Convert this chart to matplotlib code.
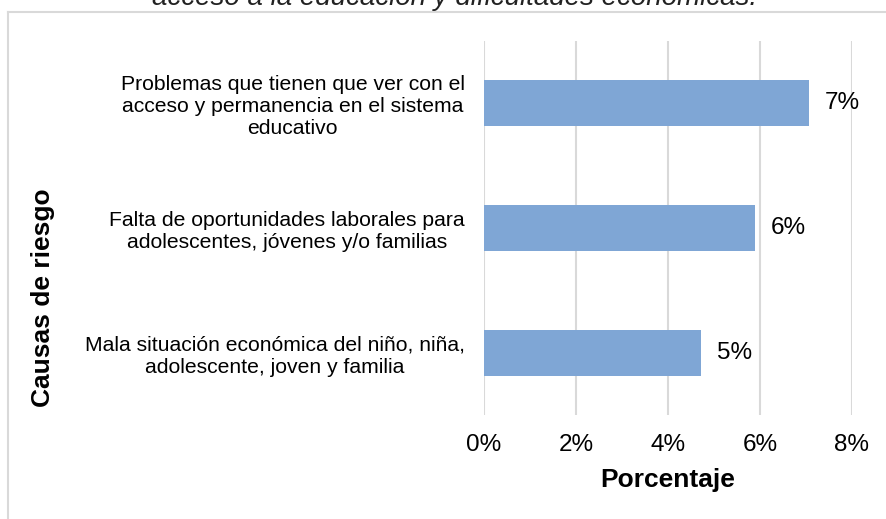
import matplotlib.pyplot as plt
from matplotlib.lines import Line2D
from matplotlib.ticker import FuncFormatter

plt.rcParams['font.family'] = ['Liberation Sans', 'DejaVu Sans']

# datos
causas = [
    "Mala situación económica del niño, niña,\nadolescente, joven y familia",
    "Falta de oportunidades laborales para\nadolescentes, jóvenes y/o familias",
    "Problemas que tienen que ver con el\nacceso y permanencia en el sistema\neducativo",
]
porcentajes = [4.72, 5.89, 7.07]
etiquetas = ["5%", "6%", "7%"]
xticks = [0, 2, 4, 6, 8]

fig = plt.figure(figsize=(8.86, 5.19), dpi=100)
ax = fig.add_axes([0.5463, 0.2004, 0.4153, 0.7206])

pos = range(len(causas))
ax.barh(pos, porcentajes, height=0.37, color='#7FA6D5', zorder=3)

for i, (v, t) in enumerate(zip(porcentajes, etiquetas)):
    ax.annotate(t, (v, i), xytext=(11.5, 0), textcoords='offset points',
                va='center', ha='left', fontsize=17.5, color='black')

ax.set_xlim(0, 8)
ax.set_ylim(-0.5, 2.5)
ax.set_xticks(xticks)
ax.xaxis.set_major_formatter(FuncFormatter(lambda x, p: f"{x:.0f}%"))
ax.set_yticks(list(pos))
ax.set_yticklabels(causas, fontsize=15.2)
for lab in ax.get_yticklabels():
    lab.set_multialignment('center')
ax.tick_params(axis='x', length=0, pad=14, labelsize=17.5)
ax.tick_params(axis='y', length=0, pad=14)
ax.grid(axis='x', color='#D9D9D9', linewidth=1.5, zorder=0)
for s in ax.spines.values():
    s.set_visible(False)

fig.text(668 / 886, 1 - 480 / 519, "Porcentaje", ha='center', va='center',
         fontsize=19, fontweight='bold')
fig.text(43 / 886, 1 - 298 / 519, "Causas de riesgo", ha='center', va='center',
         rotation=90, fontsize=19, fontweight='bold')

# titulo cortado arriba
fig.text(455 / 886, 1 - 5 / 519, "acceso a la educación y dificultades económicas.",
         ha='center', va='baseline', fontsize=20, style='italic', color='#222222')

# borde del grafico
fig.add_artist(Line2D([8 / 886, 8 / 886], [0, 1 - 12 / 519], color='#D9D9D9', lw=1.5,
                      transform=fig.transFigure))
fig.add_artist(Line2D([8 / 886, 1], [1 - 12 / 519, 1 - 12 / 519], color='#D9D9D9', lw=1.5,
                      transform=fig.transFigure))

fig.savefig("out.png", dpi=100)
